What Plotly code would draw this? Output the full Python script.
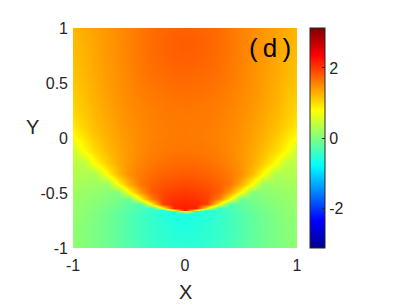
import plotly.graph_objects as go

x_vals = [-1.0, -0.9, -0.8, -0.7, -0.6, -0.5, -0.4, -0.3, -0.2, -0.1, 0.0,
          0.1, 0.2, 0.3, 0.4, 0.5, 0.6, 0.7, 0.8, 0.9, 1.0]
y_vals = [-1.0, -0.9, -0.8, -0.69, -0.665, -0.652, -0.635, -0.60, -0.556, -0.49,
          -0.415, -0.328, -0.23, -0.12, 0.03, 0.1, 0.2, 0.3, 0.4, 0.5,
          0.6, 0.7, 0.8, 0.9, 1.0]

phase = [
    [0.08, 0.03, -0.04, -0.11, -0.19, -0.27, -0.35, -0.42, -0.47, -0.51, -0.52, -0.51, -0.47, -0.42, -0.35, -0.27, -0.19, -0.11, -0.04, 0.03, 0.08],
    [0.10, 0.04, -0.03, -0.11, -0.19, -0.28, -0.37, -0.44, -0.50, -0.54, -0.55, -0.54, -0.50, -0.44, -0.37, -0.28, -0.19, -0.11, -0.03, 0.04, 0.10],
    [0.11, 0.05, -0.02, -0.10, -0.19, -0.29, -0.38, -0.46, -0.52, -0.57, -0.59, -0.57, -0.52, -0.46, -0.38, -0.29, -0.19, -0.10, -0.02, 0.05, 0.11],
    [0.13, 0.07, -0.01, -0.09, -0.18, -0.28, -0.38, -0.47, -0.55, -0.60, -0.62, -0.60, -0.55, -0.47, -0.38, -0.28, -0.18, -0.09, -0.01, 0.07, 0.13],
    [0.14, 0.08, 0.01, -0.07, -0.16, -0.26, -0.36, -0.45, -0.53, -0.58, 0.80, -0.58, -0.53, -0.45, -0.36, -0.26, -0.16, -0.07, 0.01, 0.08, 0.14],
    [0.14, 0.09, 0.02, -0.06, -0.14, -0.24, -0.34, -0.44, -0.52, 0.80, 2.21, 0.80, -0.52, -0.44, -0.34, -0.24, -0.14, -0.06, 0.02, 0.09, 0.14],
    [0.15, 0.09, 0.03, -0.05, -0.13, -0.23, -0.33, -0.43, 0.80, 2.14, 2.19, 2.14, 0.80, -0.43, -0.33, -0.23, -0.13, -0.05, 0.03, 0.09, 0.15],
    [0.15, 0.11, 0.05, -0.02, -0.10, -0.20, -0.30, 0.80, 1.98, 2.11, 2.15, 2.11, 1.98, 0.80, -0.30, -0.20, -0.10, -0.02, 0.05, 0.11, 0.15],
    [0.17, 0.13, 0.08, 0.02, -0.05, -0.14, 0.80, 1.55, 1.96, 2.05, 2.08, 2.05, 1.96, 1.55, 0.80, -0.14, -0.05, 0.02, 0.08, 0.13, 0.17],
    [0.19, 0.16, 0.12, 0.07, 0.02, 0.80, 1.40, 1.78, 1.92, 1.98, 2.00, 1.98, 1.92, 1.78, 1.40, 0.80, 0.02, 0.07, 0.12, 0.16, 0.19],
    [0.25, 0.22, 0.19, 0.15, 0.80, 1.30, 1.62, 1.76, 1.84, 1.88, 1.90, 1.88, 1.84, 1.76, 1.62, 1.30, 0.80, 0.15, 0.19, 0.22, 0.25],
    [0.31, 0.29, 0.27, 0.80, 1.22, 1.47, 1.60, 1.69, 1.75, 1.78, 1.80, 1.78, 1.75, 1.69, 1.60, 1.47, 1.22, 0.80, 0.27, 0.29, 0.31],
    [0.37, 0.37, 0.80, 1.10, 1.30, 1.44, 1.54, 1.62, 1.67, 1.70, 1.71, 1.70, 1.67, 1.62, 1.54, 1.44, 1.30, 1.10, 0.80, 0.37, 0.37],
    [0.44, 0.80, 1.02, 1.20, 1.33, 1.43, 1.51, 1.57, 1.61, 1.63, 1.64, 1.63, 1.61, 1.57, 1.51, 1.43, 1.33, 1.20, 1.02, 0.80, 0.44],
    [0.80, 0.98, 1.15, 1.27, 1.37, 1.45, 1.51, 1.55, 1.58, 1.60, 1.61, 1.60, 1.58, 1.55, 1.51, 1.45, 1.37, 1.27, 1.15, 0.98, 0.80],
    [0.90, 1.06, 1.19, 1.30, 1.39, 1.46, 1.52, 1.56, 1.59, 1.60, 1.61, 1.60, 1.59, 1.56, 1.52, 1.46, 1.39, 1.30, 1.19, 1.06, 0.90],
    [1.00, 1.11, 1.23, 1.33, 1.41, 1.48, 1.53, 1.57, 1.60, 1.61, 1.62, 1.61, 1.60, 1.57, 1.53, 1.48, 1.41, 1.33, 1.23, 1.11, 1.00],
    [1.06, 1.15, 1.26, 1.35, 1.43, 1.50, 1.55, 1.59, 1.61, 1.63, 1.64, 1.63, 1.61, 1.59, 1.55, 1.50, 1.43, 1.35, 1.26, 1.15, 1.06],
    [1.10, 1.18, 1.28, 1.37, 1.45, 1.51, 1.57, 1.61, 1.64, 1.66, 1.67, 1.66, 1.64, 1.61, 1.57, 1.51, 1.45, 1.37, 1.28, 1.18, 1.10],
    [1.13, 1.21, 1.30, 1.39, 1.46, 1.53, 1.59, 1.64, 1.67, 1.69, 1.70, 1.69, 1.67, 1.64, 1.59, 1.53, 1.46, 1.39, 1.30, 1.21, 1.13],
    [1.16, 1.23, 1.32, 1.40, 1.47, 1.54, 1.61, 1.66, 1.70, 1.72, 1.73, 1.72, 1.70, 1.66, 1.61, 1.54, 1.47, 1.40, 1.32, 1.23, 1.16],
    [1.18, 1.25, 1.33, 1.41, 1.48, 1.55, 1.62, 1.68, 1.72, 1.75, 1.76, 1.75, 1.72, 1.68, 1.62, 1.55, 1.48, 1.41, 1.33, 1.25, 1.18],
    [1.20, 1.26, 1.34, 1.42, 1.49, 1.56, 1.63, 1.69, 1.74, 1.77, 1.78, 1.77, 1.74, 1.69, 1.63, 1.56, 1.49, 1.42, 1.34, 1.26, 1.20],
    [1.22, 1.28, 1.35, 1.42, 1.49, 1.56, 1.63, 1.69, 1.74, 1.77, 1.78, 1.77, 1.74, 1.69, 1.63, 1.56, 1.49, 1.42, 1.35, 1.28, 1.22],
    [1.23, 1.30, 1.37, 1.43, 1.49, 1.55, 1.62, 1.68, 1.72, 1.75, 1.76, 1.75, 1.72, 1.68, 1.62, 1.55, 1.49, 1.43, 1.37, 1.30, 1.23],
]

x_ticks = [-1, 0, 1]
y_ticks = [-1, -0.5, 0, 0.5, 1]
y_tick_text = ["-1", "-0.5", "0", "0.5", "1"]
cbar_ticks = [-2, 0, 2]
z_min, z_max = -3.14159, 3.14159

jet = [
    [0.0, "rgb(0,0,143)"],
    [0.125, "rgb(0,0,255)"],
    [0.375, "rgb(0,255,255)"],
    [0.625, "rgb(255,255,0)"],
    [0.875, "rgb(255,0,0)"],
    [1.0, "rgb(128,0,0)"],
]

FONT = "Liberation Sans, Arial, sans-serif"
TXT = "#262626"

fig = go.Figure(go.Heatmap(
    x=x_vals, y=y_vals, z=phase,
    zmin=z_min, zmax=z_max, zsmooth="best",
    colorscale=jet,
    colorbar=dict(
        x=1.058, xanchor="left", xref="paper",
        y=0.5, yanchor="middle", len=1.0, lenmode="fraction",
        thickness=15, outlinewidth=1, outlinecolor="#262626",
        tickvals=cbar_ticks, ticktext=[str(t) for t in cbar_ticks],
        ticks="inside", ticklen=3, tickcolor="#262626",
        tickfont=dict(family=FONT, size=16, color=TXT),
        ypad=0, xpad=0,
    ),
    hoverinfo="skip",
))

fig.update_layout(
    width=407, height=307,
    margin=dict(l=65, r=118, t=17, b=67),
    paper_bgcolor="white", plot_bgcolor="white",
    font=dict(family=FONT, size=16, color=TXT),
    xaxis=dict(range=[-1, 1], tickvals=x_ticks, ticktext=[str(t) for t in x_ticks],
               showgrid=False, zeroline=False, showline=False, ticks="",
               ticklabelstandoff=6,
               tickfont=dict(family=FONT, size=16, color=TXT)),
    yaxis=dict(range=[-1, 1], tickvals=y_ticks, ticktext=y_tick_text,
               showgrid=False, zeroline=False, showline=False, ticks="",
               ticklabelstandoff=4,
               tickfont=dict(family=FONT, size=16, color=TXT)),
    annotations=[
        dict(text="X", xref="paper", yref="paper", x=0.5, y=-0.2,
             xanchor="center", yanchor="middle", showarrow=False,
             font=dict(family=FONT, size=20, color=TXT)),
        dict(text="Y", xref="paper", yref="paper", x=-0.183, y=0.552,
             xanchor="center", yanchor="middle", showarrow=False,
             font=dict(family=FONT, size=20, color=TXT)),
        dict(text="(\u2009d\u2009)", xref="x", yref="y", x=0.76, y=0.82,
             xanchor="center", yanchor="middle", showarrow=False,
             font=dict(family=FONT, size=26, color="black")),
    ],
)

fig.write_html("out.html")
